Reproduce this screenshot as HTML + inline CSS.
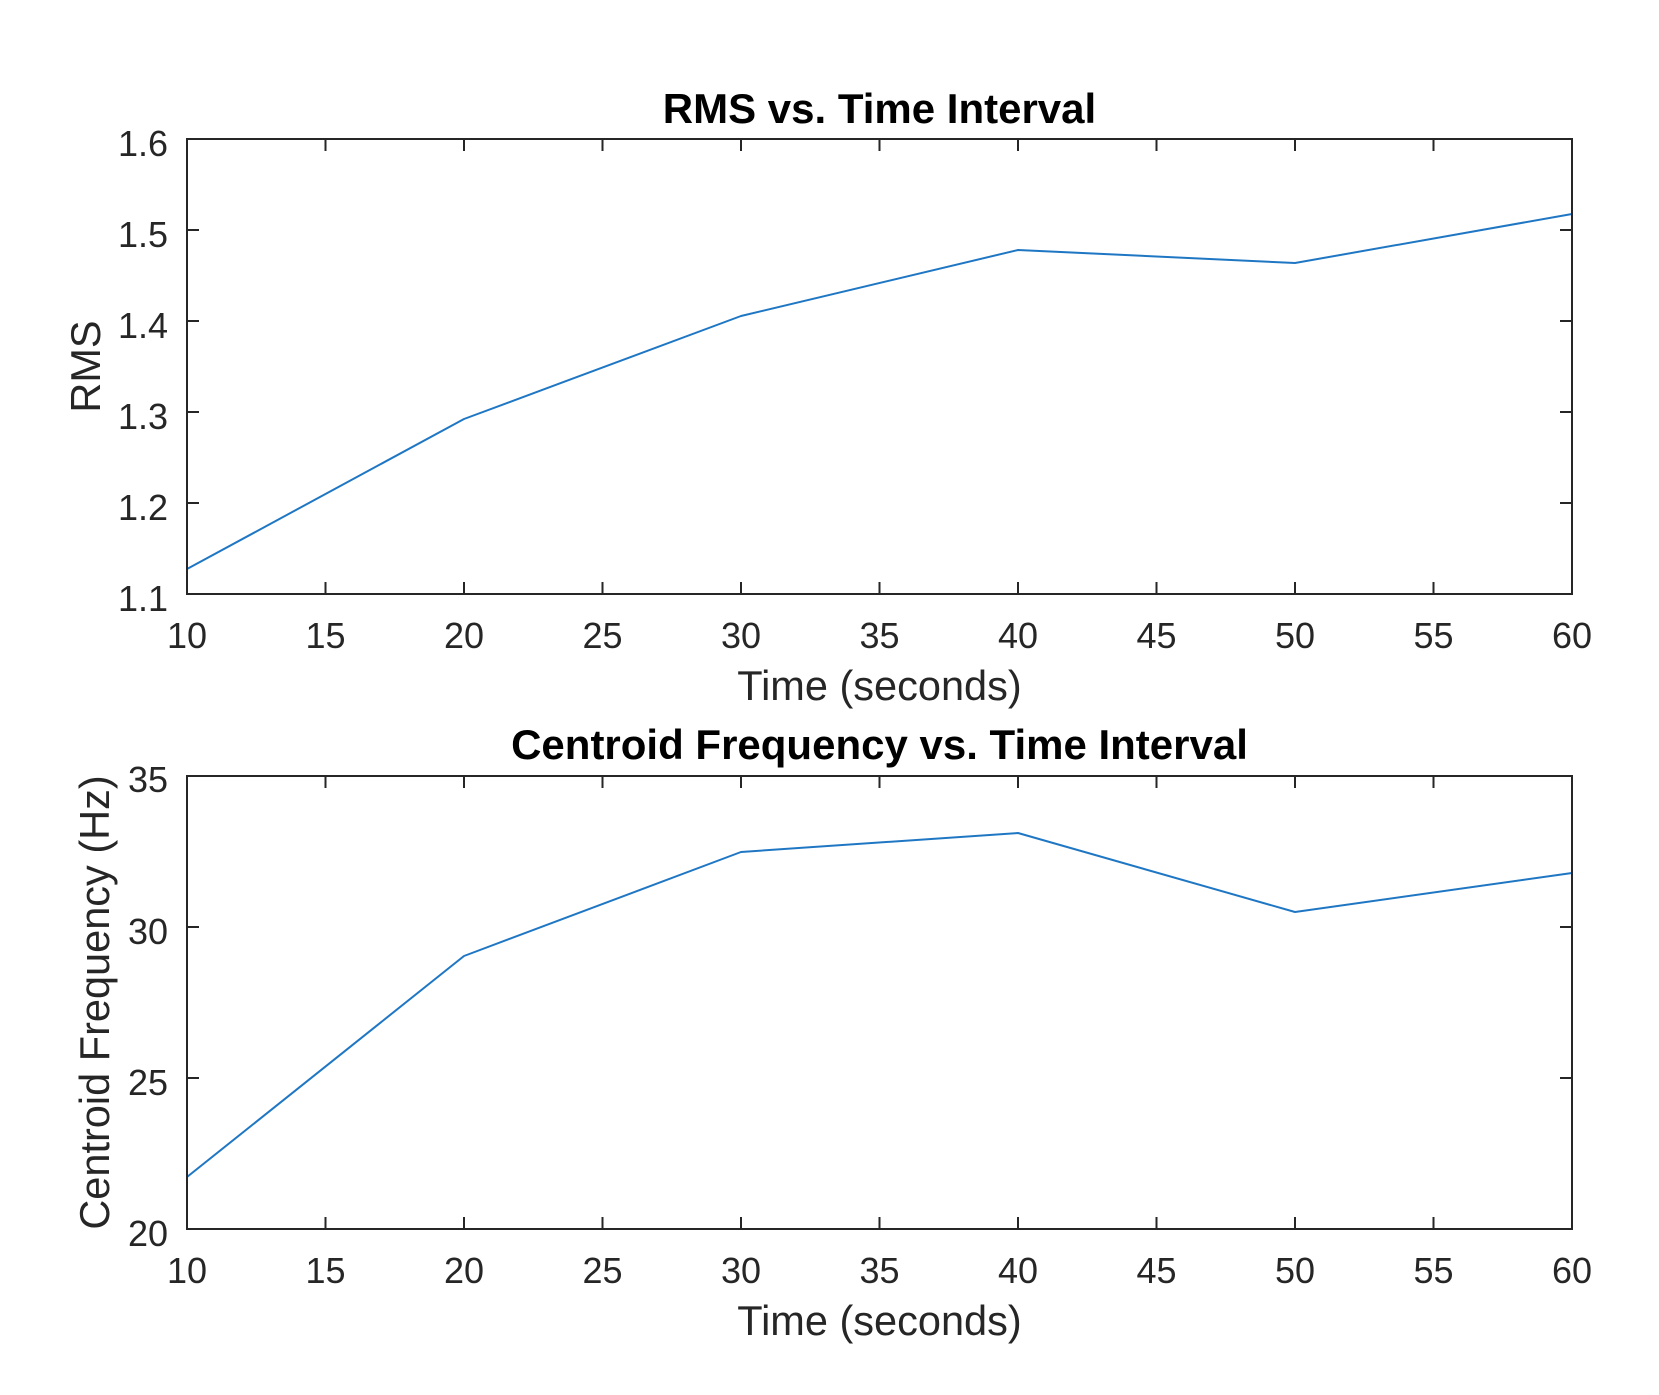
<!DOCTYPE html>
<html>
<head>
<meta charset="utf-8">
<style>
  html, body { margin: 0; padding: 0; background: #ffffff; }
  svg { display: block; }
  text { font-family: "Liberation Sans", Arial, Helvetica, sans-serif; }
</style>
</head>
<body>
<svg width="1659" height="1395" viewBox="0 0 1659 1395" xmlns="http://www.w3.org/2000/svg">
  <rect x="0" y="0" width="1659" height="1395" fill="#ffffff"/>

  <!-- ================= TOP PLOT ================= -->
  <g>
    <g stroke="#262626" stroke-width="2">
      <line x1="325.5" y1="594" x2="325.5" y2="582"/><line x1="325.5" y1="139" x2="325.5" y2="151"/>
      <line x1="464" y1="594" x2="464" y2="582"/><line x1="464" y1="139" x2="464" y2="151"/>
      <line x1="602.5" y1="594" x2="602.5" y2="582"/><line x1="602.5" y1="139" x2="602.5" y2="151"/>
      <line x1="741" y1="594" x2="741" y2="582"/><line x1="741" y1="139" x2="741" y2="151"/>
      <line x1="879.5" y1="594" x2="879.5" y2="582"/><line x1="879.5" y1="139" x2="879.5" y2="151"/>
      <line x1="1018" y1="594" x2="1018" y2="582"/><line x1="1018" y1="139" x2="1018" y2="151"/>
      <line x1="1156.5" y1="594" x2="1156.5" y2="582"/><line x1="1156.5" y1="139" x2="1156.5" y2="151"/>
      <line x1="1295" y1="594" x2="1295" y2="582"/><line x1="1295" y1="139" x2="1295" y2="151"/>
      <line x1="1433.5" y1="594" x2="1433.5" y2="582"/><line x1="1433.5" y1="139" x2="1433.5" y2="151"/>
      <line x1="187" y1="230" x2="199" y2="230"/><line x1="1572" y1="230" x2="1560" y2="230"/>
      <line x1="187" y1="321" x2="199" y2="321"/><line x1="1572" y1="321" x2="1560" y2="321"/>
      <line x1="187" y1="412" x2="199" y2="412"/><line x1="1572" y1="412" x2="1560" y2="412"/>
      <line x1="187" y1="503" x2="199" y2="503"/><line x1="1572" y1="503" x2="1560" y2="503"/>
    </g>
    <polyline fill="none" stroke="#1f77c4" stroke-width="2" stroke-linejoin="round"
      points="187,569 464,419 741,316 1018,250 1295,263 1572,214"/>
    <rect x="187" y="139" width="1385" height="455" fill="none" stroke="#262626" stroke-width="2"/>

    <g font-size="36" fill="#262626" text-anchor="end">
      <text x="168" y="156">1.6</text>
      <text x="168" y="247">1.5</text>
      <text x="168" y="338">1.4</text>
      <text x="168" y="429">1.3</text>
      <text x="168" y="520">1.2</text>
      <text x="168" y="611">1.1</text>
    </g>
    <g font-size="36" fill="#262626" text-anchor="middle">
      <text x="187" y="648">10</text>
      <text x="325.5" y="648">15</text>
      <text x="464" y="648">20</text>
      <text x="602.5" y="648">25</text>
      <text x="741" y="648">30</text>
      <text x="879.5" y="648">35</text>
      <text x="1018" y="648">40</text>
      <text x="1156.5" y="648">45</text>
      <text x="1295" y="648">50</text>
      <text x="1433.5" y="648">55</text>
      <text x="1572" y="648">60</text>
    </g>
    <text x="879.5" y="700" font-size="41.5" fill="#262626" text-anchor="middle">Time (seconds)</text>
    <text x="0" y="0" font-size="41.5" fill="#262626" text-anchor="middle" transform="translate(100,366.5) rotate(-90)">RMS</text>
    <text x="879.5" y="123" font-size="42" font-weight="bold" fill="#000000" text-anchor="middle">RMS vs. Time Interval</text>
  </g>

  <!-- ================= BOTTOM PLOT ================= -->
  <g>
    <g stroke="#262626" stroke-width="2">
      <line x1="325.5" y1="1229" x2="325.5" y2="1217"/><line x1="325.5" y1="776" x2="325.5" y2="788"/>
      <line x1="464" y1="1229" x2="464" y2="1217"/><line x1="464" y1="776" x2="464" y2="788"/>
      <line x1="602.5" y1="1229" x2="602.5" y2="1217"/><line x1="602.5" y1="776" x2="602.5" y2="788"/>
      <line x1="741" y1="1229" x2="741" y2="1217"/><line x1="741" y1="776" x2="741" y2="788"/>
      <line x1="879.5" y1="1229" x2="879.5" y2="1217"/><line x1="879.5" y1="776" x2="879.5" y2="788"/>
      <line x1="1018" y1="1229" x2="1018" y2="1217"/><line x1="1018" y1="776" x2="1018" y2="788"/>
      <line x1="1156.5" y1="1229" x2="1156.5" y2="1217"/><line x1="1156.5" y1="776" x2="1156.5" y2="788"/>
      <line x1="1295" y1="1229" x2="1295" y2="1217"/><line x1="1295" y1="776" x2="1295" y2="788"/>
      <line x1="1433.5" y1="1229" x2="1433.5" y2="1217"/><line x1="1433.5" y1="776" x2="1433.5" y2="788"/>
      <line x1="187" y1="927" x2="199" y2="927"/><line x1="1572" y1="927" x2="1560" y2="927"/>
      <line x1="187" y1="1078" x2="199" y2="1078"/><line x1="1572" y1="1078" x2="1560" y2="1078"/>
    </g>
    <polyline fill="none" stroke="#1f77c4" stroke-width="2" stroke-linejoin="round"
      points="187,1177 464,956 741,852 1018,833 1295,912 1572,873"/>
    <rect x="187" y="776" width="1385" height="453" fill="none" stroke="#262626" stroke-width="2"/>

    <g font-size="36" fill="#262626" text-anchor="end">
      <text x="168" y="792">35</text>
      <text x="168" y="944">30</text>
      <text x="168" y="1095">25</text>
      <text x="168" y="1246">20</text>
    </g>
    <g font-size="36" fill="#262626" text-anchor="middle">
      <text x="187" y="1283">10</text>
      <text x="325.5" y="1283">15</text>
      <text x="464" y="1283">20</text>
      <text x="602.5" y="1283">25</text>
      <text x="741" y="1283">30</text>
      <text x="879.5" y="1283">35</text>
      <text x="1018" y="1283">40</text>
      <text x="1156.5" y="1283">45</text>
      <text x="1295" y="1283">50</text>
      <text x="1433.5" y="1283">55</text>
      <text x="1572" y="1283">60</text>
    </g>
    <text x="879.5" y="1335" font-size="41.5" fill="#262626" text-anchor="middle">Time (seconds)</text>
    <text x="0" y="0" font-size="41.5" fill="#262626" text-anchor="middle" transform="translate(109,1002.5) rotate(-90)">Centroid Frequency (Hz)</text>
    <text x="879.5" y="759" font-size="42" font-weight="bold" fill="#000000" text-anchor="middle">Centroid Frequency vs. Time Interval</text>
  </g>
</svg>
</body>
</html>
